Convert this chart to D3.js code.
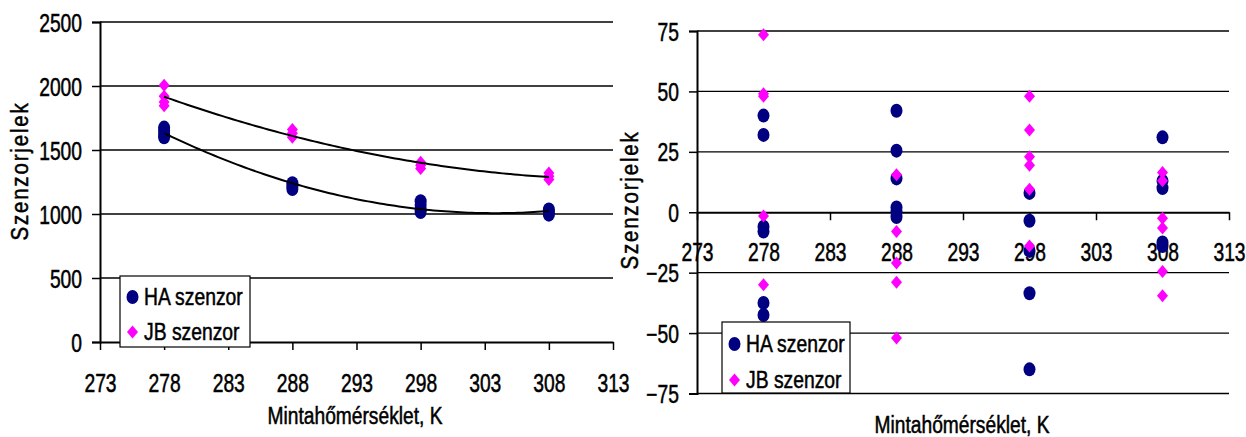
<!DOCTYPE html>
<html>
<head>
<meta charset="utf-8">
<script src="https://cdn.jsdelivr.net/npm/d3@7"></script>
<style>
  html, body { margin: 0; padding: 0; background: #fff; }
  svg { display: block; }
  text { font-family: "Liberation Sans", Arial, sans-serif; fill: #000; stroke: #000; stroke-width: 0.5px; }
</style>
</head>
<body>
<svg id="chart" width="1246" height="437"></svg>
<script>
// Measurement temperatures (K) and the sensor readings taken at each one
const temps = [278, 288, 298, 308];

// Raw sensor signals
const haSignal = [
  [1600, 1625, 1650, 1675],
  [1195, 1215, 1240],
  [1015, 1040, 1070, 1100],
  [995, 1015, 1035]
];
const jbSignal = [
  [2005, 1920, 1875, 1845],
  [1600, 1630, 1660],
  [1355, 1380, 1405],
  [1270, 1295, 1320]
];

// Deviations of the sensor signals
const haDeviation = [
  [40, 32, -6, -8, -37.5, -42.5],
  [42, 25.5, 14, 2, 0, -2],
  [8, -3.5, -16, -33.5, -65],
  [31, 13, 10, -12.5, -14]
];
const jbDeviation = [
  [73.5, 49, 48, -1.5, -30],
  [15.5, -8, -21, -29, -52],
  [48, 34, 23, 19.5, 9.5, -14],
  [16.5, 13, -2.5, -6.5, -24.5, -34.5]
];

const tempTicks = [273, 278, 283, 288, 293, 298, 303, 308, 313];
const signalTicks = [0, 500, 1000, 1500, 2000, 2500];
const deviationTicks = [-75, -50, -25, 0, 25, 50, 75];

const series = [
  { name: "HA szenzor", color: "#000080", shape: "circle" },
  { name: "JB szenzor", color: "#ff00ff", shape: "diamond" }
];
const yTitle = "Szenzorjelek";
const xTitle = "Mintahőmérséklet, K";

const svg = d3.select("#chart");

// condensed type: glyphs are narrowed horizontally around their own anchor
function condenseTicks(sel, k) {
  sel.each(function () {
    const t = d3.select(this);
    const xv = +(t.attr("x") || 0);
    t.attr("x", xv / k).attr("transform", `scale(${k},1)`);
  });
}
function condensedText(g, x, y, k, rotate) {
  return g.append("text")
    .attr("transform", `translate(${x},${y})${rotate ? " rotate(" + rotate + ")" : ""} scale(${k},1)`);
}

function flatten(temps, groups) {
  const out = [];
  groups.forEach((vals, i) => vals.forEach(v => out.push([temps[i], v])));
  return out;
}

// least-squares polynomial of order 2 (normal equations, solved by Gauss elimination)
function quadFit(points) {
  const n = 3;
  const A = Array.from({ length: n }, () => new Array(n + 1).fill(0));
  points.forEach(([x, y]) => {
    for (let r = 0; r < n; r++) {
      for (let c = 0; c < n; c++) A[r][c] += Math.pow(x, r + c);
      A[r][n] += y * Math.pow(x, r);
    }
  });
  for (let i = 0; i < n; i++) {
    let p = i;
    for (let k = i + 1; k < n; k++) if (Math.abs(A[k][i]) > Math.abs(A[p][i])) p = k;
    [A[i], A[p]] = [A[p], A[i]];
    for (let k = i + 1; k < n; k++) {
      const f = A[k][i] / A[i][i];
      for (let c = i; c <= n; c++) A[k][c] -= f * A[i][c];
    }
  }
  const coef = new Array(n).fill(0);
  for (let i = n - 1; i >= 0; i--) {
    let s = A[i][n];
    for (let c = i + 1; c < n; c++) s -= A[i][c] * coef[c];
    coef[i] = s / A[i][i];
  }
  return x => coef[0] + coef[1] * x + coef[2] * x * x;
}

function drawMarker(g, shape, color, cx, cy) {
  if (shape === "circle") {
    g.append("ellipse").attr("cx", cx).attr("cy", cy)
      .attr("rx", 6).attr("ry", 7).attr("fill", color);
  } else {
    g.append("path")
      .attr("d", `M${cx},${cy - 6.5}L${cx + 5.5},${cy}L${cx},${cy + 6.5}L${cx - 5.5},${cy}Z`)
      .attr("fill", color);
  }
}

function drawPanel(opt) {
  const g = svg.append("g");
  const x = d3.scaleLinear().domain([273, 313]).range(opt.xRange);
  const y = d3.scaleLinear().domain(opt.yDomain).range(opt.yRange);
  const x0 = opt.xRange[0], x1 = opt.xRange[1];

  // horizontal gridlines
  g.append("g").selectAll("line")
    .data(opt.yTicks.filter(t => t !== opt.axisAt))
    .join("line")
    .attr("x1", x0).attr("x2", x1)
    .attr("y1", d => y(d)).attr("y2", d => y(d))
    .attr("stroke", "#000").attr("stroke-width", 1.3);

  // value axis
  const yAxis = g.append("g").attr("transform", `translate(${x0},0)`)
    .call(d3.axisLeft(y).tickValues(opt.yTicks).tickSize(8).tickPadding(10).tickFormat(d3.format("d")));
  yAxis.select(".domain").attr("stroke-width", 2);
  yAxis.selectAll(".tick line").attr("stroke-width", 1.5);
  yAxis.selectAll("text").style("font-size", "25px")
    .style("font-family", null).attr("dy", "0.36em").call(condenseTicks, 0.77);

  // temperature axis
  const xAxis = g.append("g").attr("transform", `translate(0,${y(opt.axisAt)})`)
    .call(d3.axisBottom(x).tickValues(tempTicks).tickSize(8).tickSizeOuter(0).tickPadding(opt.xPad).tickFormat(d3.format("d")));
  xAxis.select(".domain").attr("stroke-width", 2);
  xAxis.selectAll(".tick line").attr("stroke-width", 1.5);
  xAxis.selectAll("text").style("font-size", "25px").style("font-family", null)
    .call(condenseTicks, 0.77);

  // titles
  condensedText(g, opt.yTitlePos[0], opt.yTitlePos[1], 0.85, -90)
    .attr("text-anchor", "middle")
    .style("font-size", "24px").style("letter-spacing", "2.2px")
    .text(yTitle);
  condensedText(g, opt.xTitlePos[0], opt.xTitlePos[1], 0.835)
    .attr("text-anchor", "middle").style("font-size", "23px")
    .text(xTitle);

  // data markers, HA first so JB sits on top
  const marks = g.append("g");
  opt.data.forEach((groups, si) => {
    flatten(temps, groups).forEach(([t, v]) =>
      drawMarker(marks, series[si].shape, series[si].color, x(t), y(v)));
  });

  // polynomial trendlines
  if (opt.trend) {
    const line = d3.line().x(d => x(d[0])).y(d => y(d[1]));
    opt.data.forEach(groups => {
      const f = quadFit(flatten(temps, groups));
      const pts = d3.range(0, 101).map(i => {
        const t = 278 + i * 0.3;
        return [t, f(t)];
      });
      g.append("path").attr("d", line(pts))
        .attr("fill", "none").attr("stroke", "#000").attr("stroke-width", 2);
    });
  }

  // legend
  const [lx, ly, lw, lh] = opt.legend;
  const lg = g.append("g");
  lg.append("rect").attr("x", lx).attr("y", ly).attr("width", lw).attr("height", lh)
    .attr("fill", "#fff").attr("stroke", "#000").attr("stroke-width", 1.2);
  series.forEach((s, i) => {
    const cy = ly + opt.legendRows[i];
    drawMarker(lg, s.shape, s.color, lx + 12.5, cy);
    condensedText(lg, lx + 24, cy, 0.84).attr("dy", "0.35em")
      .style("font-size", "23px").text(s.name);
  });
}

drawPanel({
  xRange: [100, 613],
  yDomain: [0, 2500],
  yRange: [342, 22],
  yTicks: signalTicks,
  axisAt: 0,
  xPad: 24,
  data: [haSignal, jbSignal],
  trend: true,
  yTitlePos: [28, 171],
  xTitlePos: [355, 424],
  legend: [120, 276, 130, 71],
  legendRows: [21, 56]
});

drawPanel({
  xRange: [697, 1229],
  yDomain: [-75, 75],
  yRange: [393.5, 31],
  yTicks: deviationTicks,
  axisAt: 0,
  xPad: 23,
  data: [haDeviation, jbDeviation],
  trend: false,
  yTitlePos: [638, 200],
  xTitlePos: [962, 433],
  legend: [722, 322, 128, 71],
  legendRows: [22, 58]
});
</script>
</body>
</html>
